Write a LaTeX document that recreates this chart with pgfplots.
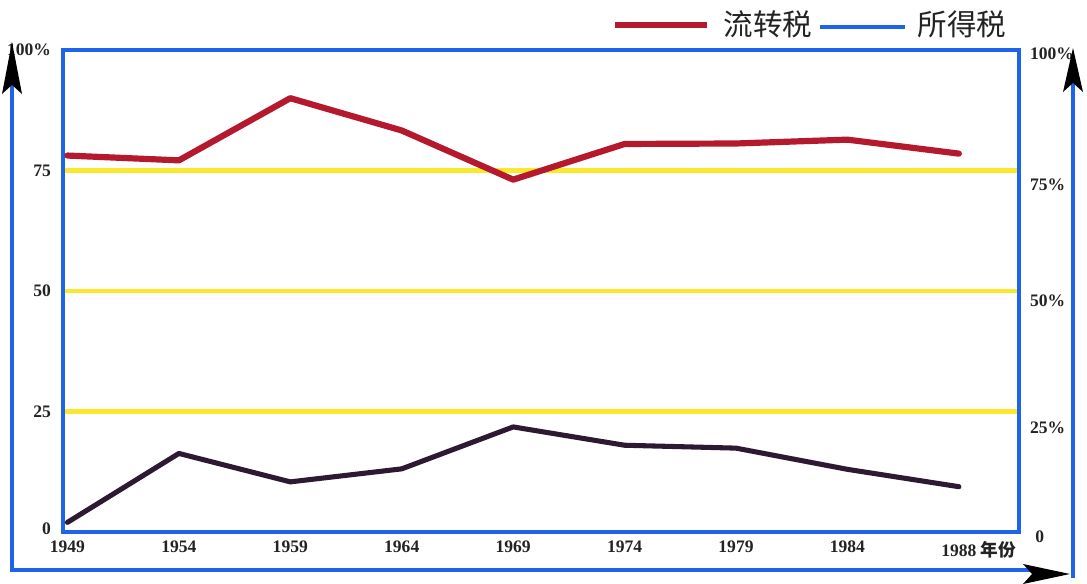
\documentclass[border=0pt]{standalone}
\usepackage{pgfplots}
\pgfplotsset{compat=1.18}
\usepackage{fontspec}
\setmainfont{Liberation Serif}
\newfontfamily\cjk{Noto Sans CJK SC}

\definecolor{frameblue}{RGB}{30,100,235}
\definecolor{redline}{RGB}{180,25,45}
\definecolor{darkline}{RGB}{45,25,50}
\definecolor{gridyellow}{RGB}{250,232,45}
\definecolor{txt}{RGB}{35,35,35}

\begin{document}
\begin{tikzpicture}[x=0.25mm, y=0.25mm]
% page = 1087 x 584 px, 1 px = 0.25mm, origin at axis box south west
\useasboundingbox (-63,-52) rectangle (1024,532);

\begin{axis}[
    scale only axis,
    width=239mm, height=120.5mm,
    xmin=-0.04, xmax=8.54,
    ymin=0, ymax=100,
    clip=false,
    axis line style={draw=frameblue, line width=3.5pt},
    xtick={0,...,8},
    xticklabels={1949,1954,1959,1964,1969,1974,1979,1984,{1988\rlap{ \cjk 年份}}},
    ytick={0,25,50,75,100},
    yticklabels={\raisebox{1.5mm}{0},25,50,75,100\%},
    major tick length=0pt,
    ymajorgrids,
    grid style={gridyellow, line width=3pt},
    tick label style={font=\bfseries\fontsize{12.5}{13}\selectfont, text=txt},
    xticklabel style={yshift=-3pt},
    yticklabel style={xshift=-5pt},
]
\addplot[redline, line width=4.4pt, line join=round, line cap=round] coordinates {
    (0,78.1) (1,77.1) (2,90.0) (3,83.3) (4,73.1) (5,80.5) (6,80.6) (7,81.4) (8,78.5)
};
\addplot[darkline, line width=3.6pt, line join=round, line cap=round] coordinates {
    (0,2.0) (1,16.3) (2,10.4) (3,13.1) (4,21.8) (5,18.0) (6,17.4) (7,13.0) (8,9.4)
};

% right-hand labels
\begin{scope}[every node/.style={font=\bfseries\fontsize{12.5}{13}\selectfont, text=txt, anchor=west, inner sep=0pt}]
\node at (axis cs:8.54,100) [xshift=2.7mm, yshift=-1mm] {100\%};
\node at (axis cs:8.54,75) [xshift=2.7mm, yshift=-3.5mm] {75\%};
\node at (axis cs:8.54,50) [xshift=2.7mm, yshift=-2.5mm] {50\%};
\node at (axis cs:8.54,25) [xshift=2.7mm, yshift=-4mm] {25\%};
\node at (axis cs:8.54,0) [xshift=4mm, yshift=-1.2mm] {0};
\end{scope}
\end{axis}

% outer frame
\draw[frameblue, line width=3.5pt] (-51,460) -- (-51,-38) -- (975,-38);
\draw[frameblue, line width=3.5pt] (1010,455) -- (1010,-46);
% arrow heads
\fill[black] (-51,490) -- (-61,438) -- (-51,447) -- (-41,438) -- cycle;
\fill[black] (1010,484) -- (1000,440) -- (1010,449) -- (1020,440) -- cycle;
\fill[black] (1007,-42) -- (960,-32) -- (969,-42) -- (960,-52) -- cycle;

% legend
\draw[redline, line width=4.4pt] (552,507) -- (644,507);
\node[font=\cjk\fontsize{21}{22}\selectfont, text=txt] at (705,508) {流转税};
\draw[frameblue, line width=3.5pt] (757,505) -- (842,505);
\node[font=\cjk\fontsize{21}{22}\selectfont, text=txt] at (899,508) {所得税};
\end{tikzpicture}
\end{document}
